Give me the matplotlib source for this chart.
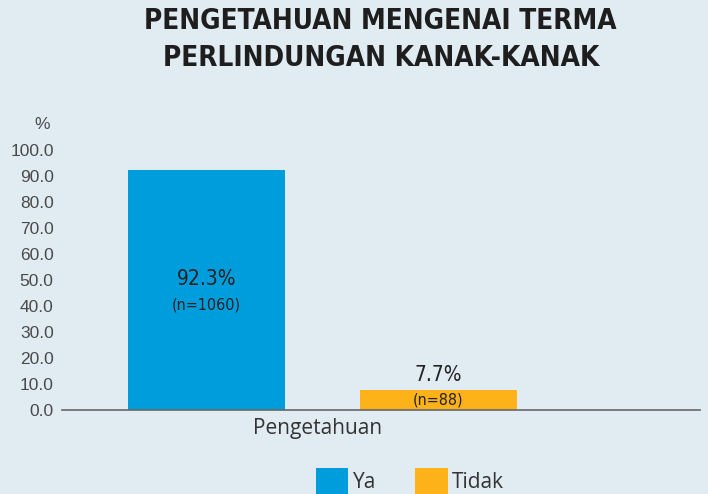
import matplotlib
matplotlib.use("Agg")
import matplotlib.pyplot as plt
from matplotlib.patches import Patch

categories = ["Pengetahuan"]
series_names = ["Ya", "Tidak"]
values = [92.3, 7.7]
counts = [1060, 88]
yticks = [0, 10, 20, 30, 40, 50, 60, 70, 80, 90, 100]
colors = ["#009ddc", "#fdb21a"]
bg = "#e0ebf2"

fig = plt.figure(figsize=(7.08, 4.94), dpi=100, facecolor=bg)
ax = fig.add_axes([62/708, 84/494, 638/708, 260/494], facecolor=bg)

w = 0.678
xs = [0, 1]
bars = ax.bar(xs, values, width=w, color=colors, zorder=2)
ax.set_xlim(-0.624, 2.13)
ax.set_ylim(0, 100)
ax.set_yticks(yticks)
ax.set_yticklabels([f"{t:.1f}" for t in yticks], fontsize=12.5, color="#4a4a4a",
                   family="Liberation Sans")
ax.tick_params(axis="y", length=0, pad=6)
ax.set_xticks([])
for s in ["top", "right", "left"]:
    ax.spines[s].set_visible(False)
ax.spines["bottom"].set_color("#666666")
ax.spines["bottom"].set_linewidth(1.2)

ax.text(-0.675, 110, "%", ha="right", va="center", fontsize=12.5, color="#4a4a4a",
        family="Liberation Sans", clip_on=False)

cond = dict(family="DejaVu Sans", fontstretch="condensed")
ax.text(xs[0], 50.5, f"{values[0]}%", ha="center", va="center", fontsize=15,
        color="#222222", **cond)
ax.text(xs[0], 40.5, f"(n={counts[0]})", ha="center", va="center", fontsize=11.5,
        color="#222222", **cond)
ax.text(xs[1], 13.3, f"{values[1]}%", ha="center", va="center", fontsize=15,
        color="#222222", **cond)
ax.text(xs[1], 4.0, f"(n={counts[1]})", ha="center", va="center", fontsize=11.5,
        color="#222222", **cond)

ax.text(0.478, -7, categories[0], ha="center", va="center", fontsize=15,
        color="#333333", family="Open Sans", clip_on=False)

fig.text(380/708, 1 - 21/494, "PENGETAHUAN MENGENAI TERMA", ha="center", va="center",
         fontsize=20, fontweight="bold", color="#1e1e1e", **cond)
fig.text(381/708, 1 - 58/494, "PERLINDUNGAN KANAK-KANAK", ha="center", va="center",
         fontsize=20, fontweight="bold", color="#1e1e1e", **cond)

handles = [Patch(facecolor=c, edgecolor="none") for c in colors]
leg = fig.legend(handles, series_names, loc="center", bbox_to_anchor=(410/708, 1 - 481/494),
                 ncol=2, frameon=False, handlelength=1.55, handleheight=1.6,
                 handletextpad=0.2, columnspacing=1.9,
                 prop={"family": "Open Sans", "size": 15})
for t in leg.get_texts():
    t.set_color("#333333")

fig.savefig("out.png", dpi=100, facecolor=bg)
